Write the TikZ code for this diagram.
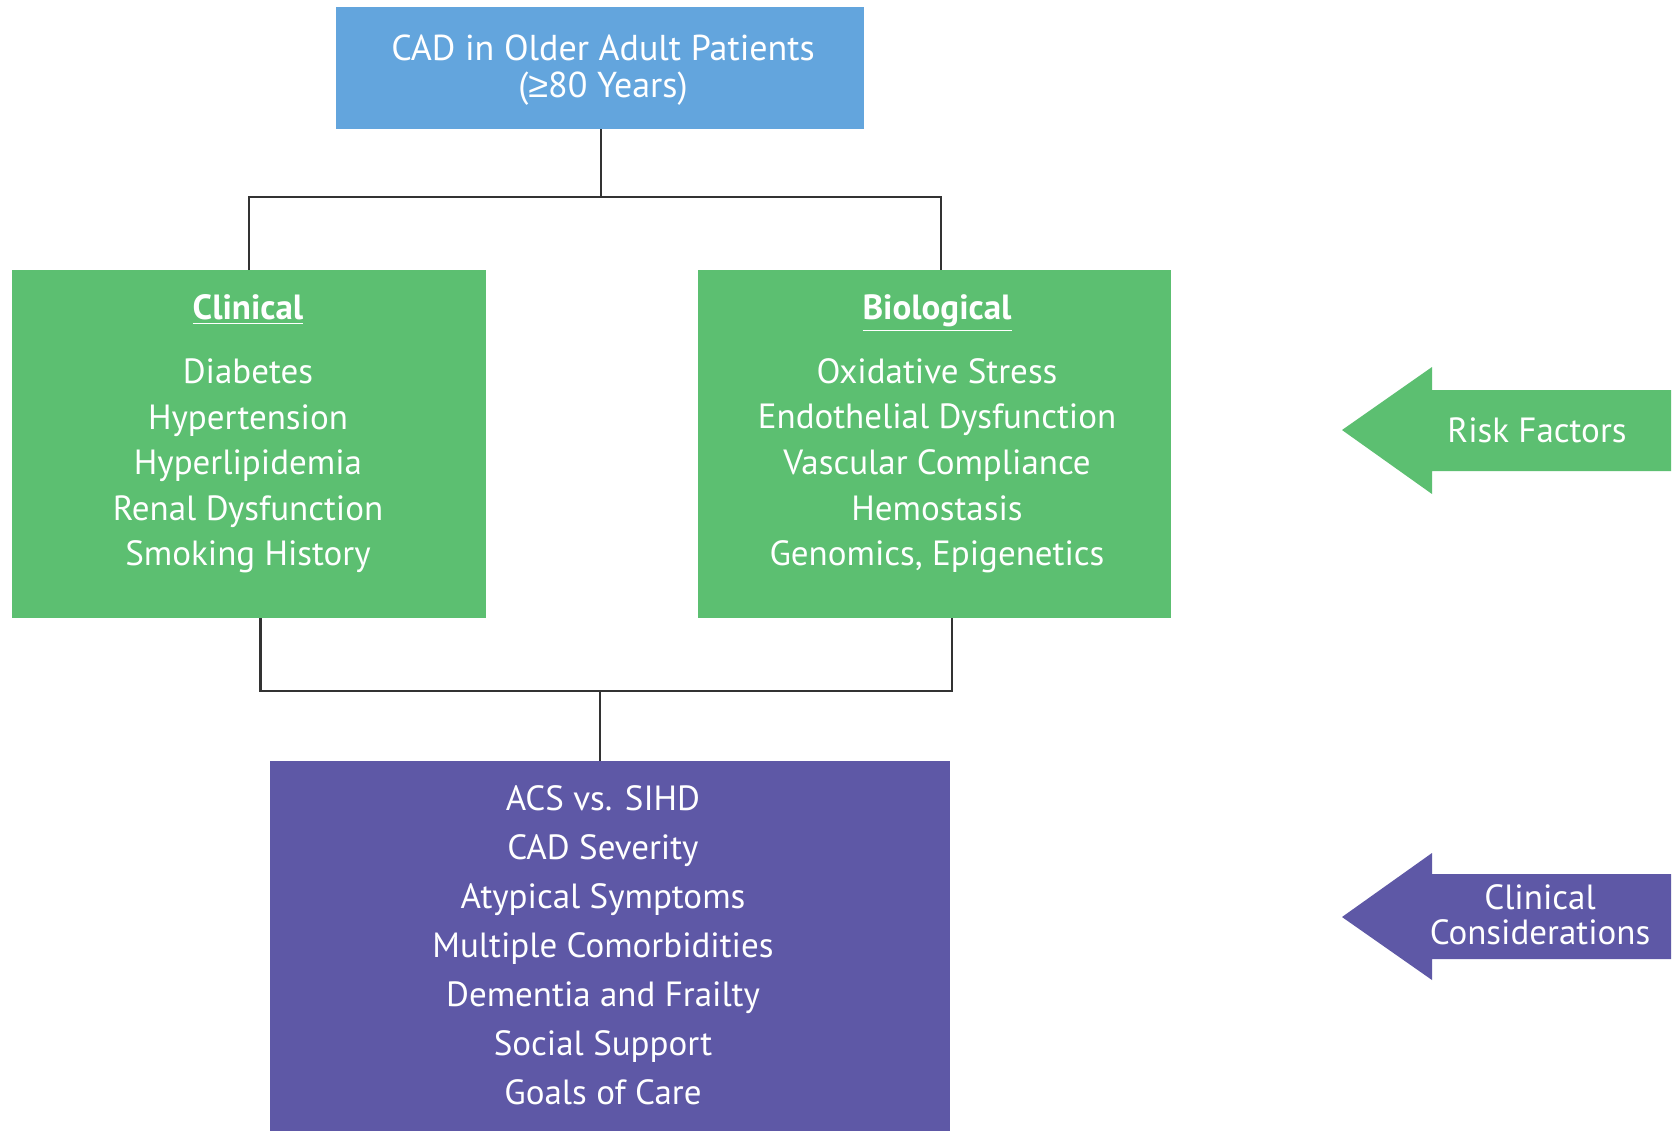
\documentclass[tikz,border=0pt]{standalone}
\usepackage{fontspec}
\setmainfont{PT Sans}
\newfontfamily\symfont{Liberation Sans}
\usepackage{tikz}
\usetikzlibrary{shapes,arrows,positioning,calc}

\definecolor{topblue}{HTML}{63A5DD}
\definecolor{riskgreen}{HTML}{5CBF71}
\definecolor{clinpurple}{HTML}{5E58A6}
\definecolor{linkgray}{HTML}{333333}

\begin{document}
\begin{tikzpicture}[x=0.5pt,y=-0.5pt,
	box/.style={draw=none,inner sep=0pt},
	boxtxt/.style={text=white,align=center,inner sep=0pt},
	link/.style={draw=linkgray,line width=1.4pt}]
\useasboundingbox (0,0) rectangle (1674,1131);
\fill[white] (0,0) rectangle (1674,1131);

% boxes
\node[box,fill=topblue,minimum width=264pt,minimum height=61pt] (top) at (600,68) {};
\node[box,fill=riskgreen,minimum width=237pt,minimum height=174pt] (clin) at (249,444) {};
\node[box,fill=riskgreen,minimum width=236.5pt,minimum height=174pt] (bio) at (934.5,444) {};
\node[box,fill=clinpurple,minimum width=340pt,minimum height=185pt] (cons) at (610,946) {};

% texts
\node[boxtxt,font=\fontsize{18}{18.5}\selectfont] (toptxt) at (603,70) {CAD in Older Adult Patients\\({\symfont ≥}80 Years)};
\node[boxtxt,font=\fontsize{17.5}{22.8}\selectfont] (clintxt) at (248,434)
	{\underline{\textbf{Clinical}}\\[9pt]Diabetes\\Hypertension\\Hyperlipidemia\\Renal Dysfunction\\Smoking History};
\node[boxtxt,font=\fontsize{17.5}{22.8}\selectfont] (biotxt) at (937,434)
	{\underline{\textbf{Biological}}\\[9pt]Oxidative Stress\\Endothelial Dysfunction\\Vascular Compliance\\Hemostasis\\Genomics, Epigenetics};
\node[boxtxt,font=\fontsize{17.5}{24.5}\selectfont] (constxt) at (603,945)
	{ACS vs. SIHD\\CAD Severity\\Atypical Symptoms\\Multiple Comorbidities\\Dementia and Frailty\\Social Support\\Goals of Care};

% connectors
\coordinate (jtop) at (601,197);
\coordinate (jbot) at (600,691);
\draw[link] (top.south -| jtop) -- (jtop);
\draw[link] (clin.north) |- (jtop) -| ([xshift=3.2pt]bio.north);
\draw[link] ([xshift=5.7pt]clin.south) |- (jbot) -| ([xshift=8.7pt]bio.south);
\draw[link] (jbot) -- (cons.north -| jbot);

% side arrows
\fill[riskgreen] (1342,430) -- (1432,367) -- (1432,390) -- (1671,390) -- (1671,471) -- (1432,471) -- (1432,494) -- cycle;
\node[boxtxt,font=\fontsize{17.5}{17.5}\selectfont] (risk) at (1537,430) {Risk Factors};
\fill[clinpurple] (1342,917) -- (1432,853) -- (1432,874) -- (1671,874) -- (1671,959) -- (1432,959) -- (1432,980) -- cycle;
\node[boxtxt,font=\fontsize{17.5}{17.5}\selectfont] (consider) at (1540,915) {Clinical\\Considerations};
\end{tikzpicture}
\end{document}
